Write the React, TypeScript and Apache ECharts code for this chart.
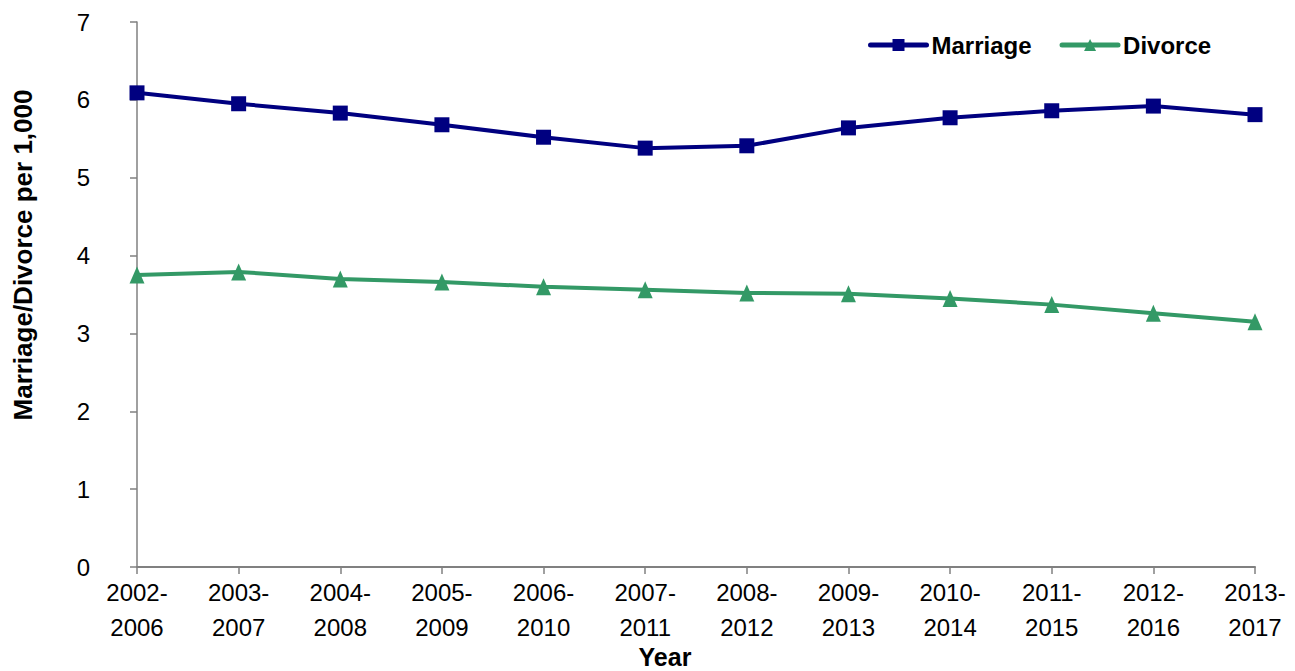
import React, { useEffect, useRef } from "react";
import * as echarts from "echarts";

const categories = [
  "2002-\n2006", "2003-\n2007", "2004-\n2008", "2005-\n2009", "2006-\n2010", "2007-\n2011",
  "2008-\n2012", "2009-\n2013", "2010-\n2014", "2011-\n2015", "2012-\n2016", "2013-\n2017",
];
const marriage = [6.09, 5.95, 5.83, 5.68, 5.52, 5.38, 5.41, 5.64, 5.77, 5.86, 5.92, 5.81];
const divorce = [3.75, 3.79, 3.70, 3.66, 3.60, 3.56, 3.52, 3.51, 3.45, 3.37, 3.26, 3.15];

const FONT = "'Liberation Sans', Arial, sans-serif";

export default function App() {
  const ref = useRef<HTMLDivElement>(null);
  useEffect(() => {
    document.body.style.margin = "0";
    const chart = echarts.init(ref.current!, null, { renderer: "svg" });
    chart.setOption({
      animation: false,
      backgroundColor: "#ffffff",
      textStyle: { fontFamily: FONT },
      grid: { left: 137, right: 40, top: 22, bottom: 104, containLabel: false },
      legend: {
        left: 863,
        top: 28,
        itemWidth: 56,
        itemHeight: 15,
        itemGap: 28,
        lineStyle: { width: 5, cap: "round" },
        textStyle: { fontFamily: FONT, fontSize: 24, fontWeight: "bold", color: "#000" },
        data: ["Marriage", "Divorce"],
      },
      xAxis: {
        type: "category",
        data: categories,
        boundaryGap: false,
        axisLine: { lineStyle: { color: "#808080", width: 2 } },
        axisTick: { show: true, length: 7, alignWithLabel: true, lineStyle: { color: "#808080", width: 1.5 } },
        axisLabel: { fontFamily: FONT, fontSize: 24, color: "#000", margin: 8, lineHeight: 35, interval: 0 },
        splitLine: { show: false },
      },
      yAxis: {
        type: "value",
        min: 0,
        max: 7,
        interval: 1,
        axisLine: { show: true, lineStyle: { color: "#808080", width: 1.5 } },
        axisTick: { show: true, length: 7, lineStyle: { color: "#808080", width: 1.5 } },
        axisLabel: { fontFamily: FONT, fontSize: 24, color: "#000", margin: 47 },
        splitLine: { show: false },
      },
      graphic: [
        {
          type: "text",
          x: 23,
          y: 255,
          rotation: Math.PI / 2,
          style: {
            text: "Marriage/Divorce per 1,000",
            fontFamily: FONT,
            fontSize: 26,
            fontWeight: "bold",
            fill: "#000",
            align: "center",
            verticalAlign: "middle",
          },
        },
        {
          type: "text",
          x: 665,
          y: 657,
          style: {
            text: "Year",
            fontFamily: FONT,
            fontSize: 25,
            fontWeight: "bold",
            fill: "#000",
            align: "center",
            verticalAlign: "middle",
          },
        },
      ],
      series: [
        {
          name: "Marriage",
          type: "line",
          data: marriage,
          symbol: "rect",
          symbolSize: 15,
          lineStyle: { color: "#000080", width: 4 },
          itemStyle: { color: "#000080" },
        },
        {
          name: "Divorce",
          type: "line",
          data: divorce,
          symbol: "triangle",
          symbolSize: [15, 17],
          lineStyle: { color: "#339966", width: 4 },
          itemStyle: { color: "#339966" },
        },
      ],
    });
    return () => chart.dispose();
  }, []);
  return <div ref={ref} style={{ width: 1295, height: 671 }} />;
}
